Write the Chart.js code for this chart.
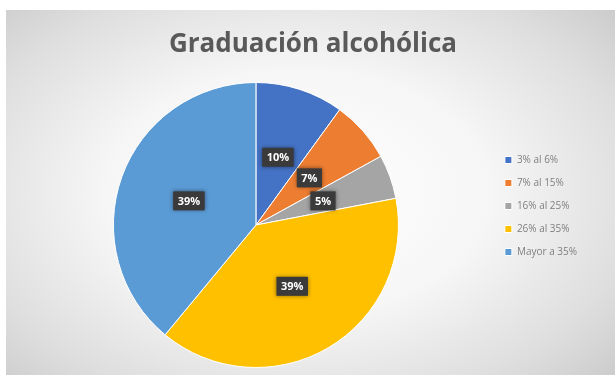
<!DOCTYPE html>
<html><head><meta charset="utf-8">
<script src="https://cdn.jsdelivr.net/npm/chart.js@4"></script>
<style>
html,body{margin:0;padding:0;background:#fff;width:615px;height:375px;overflow:hidden;}
#bg{position:absolute;left:6px;top:10px;width:609px;height:365px;
background:radial-gradient(ellipse 70% 75% at 48% 50%, #ffffff 0%, #f6f6f6 45%, #dedede 80%, #cccccc 100%);}
#wrap{position:absolute;left:0;top:0;width:615px;height:375px;}
</style></head><body>
<div id="bg"></div>
<div id="wrap"><canvas id="c" width="615" height="375"></canvas></div>
<script>
const categories = ["3% al 6%", "7% al 15%", "16% al 25%", "26% al 35%", "Mayor a 35%"];
const values = [10, 7, 5, 39, 39];
const labelsText = ["10%", "7%", "5%", "39%", "39%"];
const colors = ["#4472C4", "#ED7D31", "#A5A5A5", "#FFC000", "#5B9BD5"];
const titleText = "Graduación alcohólica";

const titlePlugin = {
  id: 'customTitle',
  afterDraw(chart) {
    const ctx = chart.ctx;
    ctx.save();
    ctx.font = 'bold 26px "Open Sans", sans-serif';
    ctx.fillStyle = '#595959';
    ctx.textAlign = 'center';
    ctx.textBaseline = 'alphabetic';
    ctx.fillText(titleText, 313, 52);
    ctx.restore();
  }
};

const labelPlugin = {
  id: 'boxLabels',
  afterDatasetsDraw(chart) {
    const ctx = chart.ctx;
    const meta = chart.getDatasetMeta(0);
    ctx.save();
    ctx.font = 'bold 11px "Open Sans", sans-serif';
    ctx.textAlign = 'center';
    ctx.textBaseline = 'middle';
    meta.data.forEach((arc, i) => {
      const p = arc.tooltipPosition();
      const t = labelsText[i];
      const w = ctx.measureText(t).width + 9;
      const h = 19;
      ctx.shadowColor = 'rgba(0,0,0,0.45)';
      ctx.shadowBlur = 4;
      ctx.fillStyle = '#3a3a3a';
      ctx.fillRect(p.x - w/2, p.y - h/2, w, h);
      ctx.shadowBlur = 0;
      ctx.fillStyle = '#ffffff';
      ctx.fillText(t, p.x, p.y + 0.5);
    });
    ctx.restore();
  }
};

new Chart(document.getElementById('c'), {
  type: 'pie',
  data: {
    labels: categories,
    datasets: [{ data: values, backgroundColor: colors, borderColor: '#ffffff', borderWidth: 1 }]
  },
  options: {
    responsive: false,
    animation: false,
    layout: { padding: { left: 20, right: 28, top: 82, bottom: 7 } },
    plugins: {
      tooltip: { enabled: false },
      title: { display: false },
      legend: {
        position: 'right', align: 'start',
        title: { display: true, text: ' ', font: { size: 10, lineHeight: 1.2 }, padding: 24 },
        labels: { boxWidth: 7, boxHeight: 7, padding: 13, color: '#7f7f7f',
          font: { family: '"Open Sans", sans-serif', size: 10 } }
      }
    }
  },
  plugins: [labelPlugin, titlePlugin]
});
</script>
</body></html>
